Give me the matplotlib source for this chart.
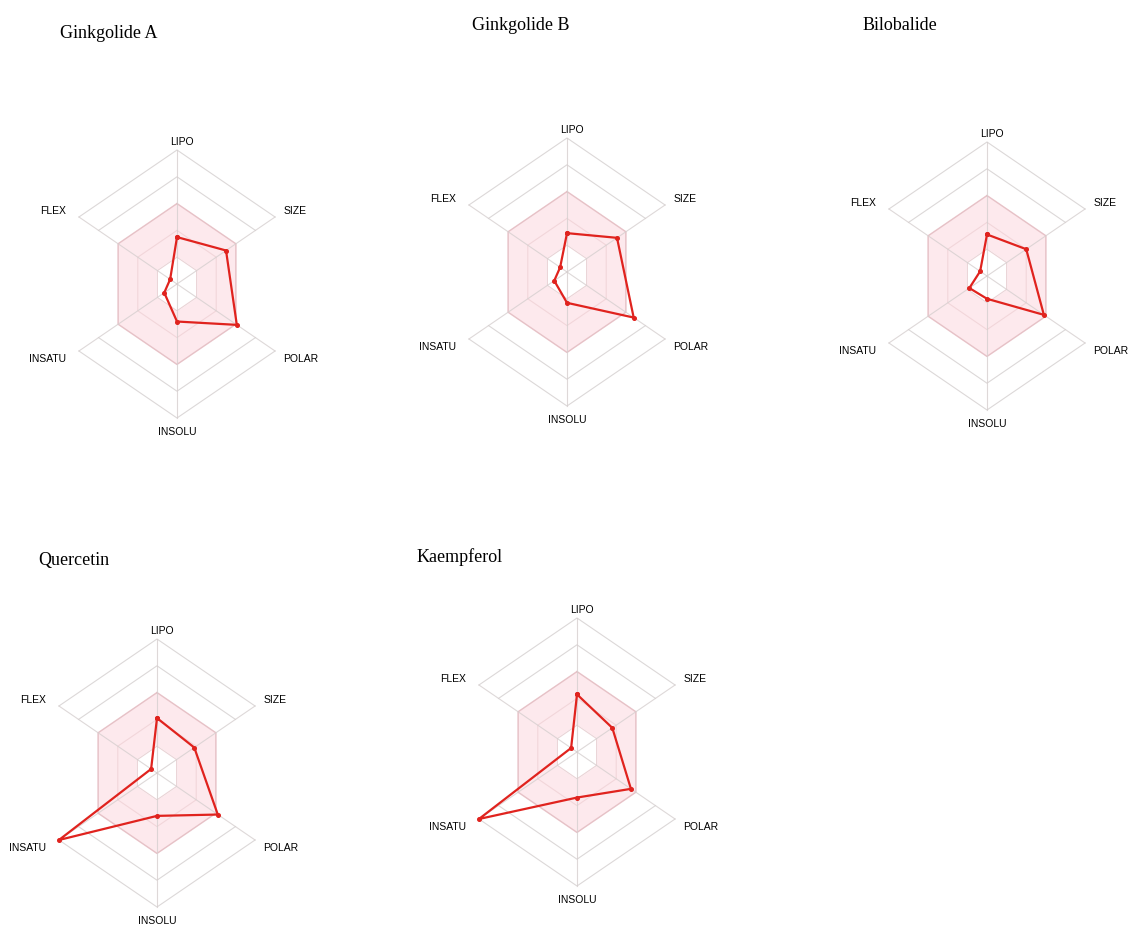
import numpy as np
import matplotlib
matplotlib.use("Agg")
from matplotlib import pyplot as plt

# bioavailability radar values (0 = centre, 1 = outer hexagon)
axes_names = ["LIPO", "SIZE", "POLAR", "INSOLU", "INSATU", "FLEX"]
titles = ["Ginkgolide A", "Ginkgolide B", "Bilobalide", "Quercetin", "Kaempferol"]
ginkgolide_a = [0.35, 0.50, 0.61, 0.28, 0.13, 0.07]
ginkgolide_b = [0.29, 0.51, 0.68, 0.23, 0.13, 0.07]
bilobalide = [0.31, 0.40, 0.58, 0.17, 0.18, 0.07]
quercetin = [0.41, 0.38, 0.62, 0.32, 1.00, 0.06]
kaempferol = [0.43, 0.36, 0.55, 0.34, 1.00, 0.06]
grid_levels = [0.2, 0.4, 0.6, 0.8, 1.0]
optimal_range = (0.2, 0.6)

series = [ginkgolide_a, ginkgolide_b, bilobalide, quercetin, kaempferol]

W, H = 1132, 929
R = 134.0          # vertical radius of outer hexagon in px
XF = 0.845         # the radars are squeezed horizontally
centers = [(177, 285), (567, 273), (987, 277), (157, 774), (577, 753)]
title_pos = [(60, 33), (472, 25), (863, 25), (38, 561), (417, 557)]

ang = np.deg2rad([90, 30, -30, -90, -150, 150])
ux = np.cos(ang) * XF
uy = np.sin(ang)

fig = plt.figure(figsize=(W / 100, H / 100), dpi=100)
fig.patch.set_facecolor("white")


def hexagon(r):
    return np.append(ux * r, ux[0] * r), np.append(uy * r, uy[0] * r)


def radar(cx, cy, vals):
    hw, hh = 165, 175
    ax = fig.add_axes([(cx - hw) / W, 1 - (cy + hh) / H, 2 * hw / W, 2 * hh / H])
    ax.set_xlim(-hw / R, hw / R)
    ax.set_ylim(-hh / R, hh / R)
    ax.axis("off")

    # outer levels: only the slanted edges are drawn
    for lv in grid_levels[3:]:
        x, y = hexagon(lv)
        ax.plot(x[[5, 0, 1]], y[[5, 0, 1]], color="#dcd8d8", lw=0.8, zorder=1)
        ax.plot(x[[2, 3, 4]], y[[2, 3, 4]], color="#dcd8d8", lw=0.8, zorder=1)

    x, y = hexagon(optimal_range[1])
    ax.fill(x, y, color="#fde9ed", zorder=2)
    ax.plot(x, y, color="#e6c2c7", lw=1.0, zorder=3)

    x, y = hexagon(grid_levels[1])
    ax.plot(x, y, color="#f2d6da", lw=0.8, zorder=3)

    x, y = hexagon(optimal_range[0])
    ax.fill(x, y, color="white", zorder=3)
    ax.plot(x, y, color="#ead3d6", lw=0.8, zorder=3)

    for i in range(6):
        ax.plot([0, ux[i]], [0, uy[i]], color="#d6cfcf", lw=0.8, alpha=0.8, zorder=4)

    v = np.array(vals)
    px = np.append(ux * v, ux[0] * v[0])
    py = np.append(uy * v, uy[0] * v[0])
    ax.plot(px, py, color="#e0231e", lw=1.6, marker="o", ms=2.6, zorder=5)

    # axis labels
    for i, name in enumerate(axes_names):
        if i == 0:
            ax.text(0.04, 1.07, name, ha="center", va="center", fontsize=7.5)
        elif i == 3:
            ax.text(0.0, -1.10, name, ha="center", va="center", fontsize=7.5)
        else:
            dy = 0.05 if uy[i] > 0 else -0.05
            if ux[i] > 0:
                ax.text(ux[i] + 0.06, uy[i] + dy, name, ha="left", va="center", fontsize=7.5)
            else:
                ax.text(ux[i] - 0.1, uy[i] + dy, name, ha="right", va="center", fontsize=7.5)
    return ax


plt.rcParams["font.family"] = ["Liberation Sans", "DejaVu Sans"]

for (cx, cy), vals in zip(centers, series):
    radar(cx, cy, vals)

for (tx, ty), t in zip(title_pos, titles):
    fig.text(tx / W, 1 - ty / H, t, ha="left", va="center", fontsize=13,
             family="Liberation Serif")

fig.savefig("out.png", dpi=100)
